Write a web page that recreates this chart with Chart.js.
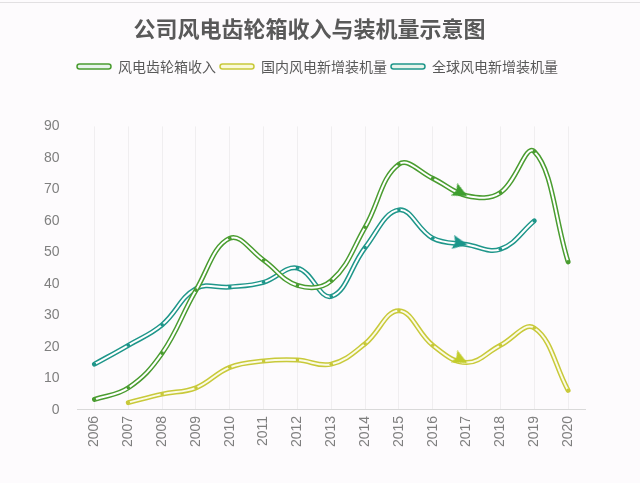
<!DOCTYPE html>
<html>
<head>
<meta charset="utf-8">
<script src="https://cdn.jsdelivr.net/npm/chart.js@4/dist/chart.umd.min.js"></script>
<style>
  html, body { margin: 0; padding: 0; background: #fdfbfd; }
  #wrap { position: relative; width: 640px; height: 483px; }
  #topline { position: absolute; left: 0; top: 2px; width: 640px; height: 1px; background: #e2e0e2; }
</style>
</head>
<body>
<div id="wrap">
  <div id="topline"></div>
  <canvas id="c" width="640" height="483"></canvas>
</div>
<script>
const titleText = '公司风电齿轮箱收入与装机量示意图';
const years = ['2006','2007','2008','2009','2010','2011','2012','2013','2014','2015','2016','2017','2018','2019','2020'];
const seriesNames = ['风电齿轮箱收入', '国内风电新增装机量', '全球风电新增装机量'];
const revenue = [3.3, 7, 18, 38, 54.5, 47.5, 39.5, 41, 58, 78, 73.5, 68, 69, 82, 47];
const domestic = [null, 2.3, 5, 7, 13.5, 15.5, 15.8, 14.5, 21, 31.5, 20.5, 15, 20.5, 26, 6.2];
const global = [14.5, 20.5, 27, 38.5, 39, 40.5, 45, 36, 51.5, 63.5, 54.5, 52.5, 51, 60, null];
const yTicks = [0, 10, 20, 30, 40, 50, 60, 70, 80, 90];
const arrowYear = '2017';

const outlineColors = ['#4a9c30', '#c8c93a', '#1f968a'];
const innerColors = ['#ffffff', '#fbfbe6', '#ffffff'];
const arrowColors = ['#3d9e2e', '#c2cc2a', '#1a958a'];
const arrowIndex = years.indexOf(arrowYear);

// arrowhead image: tip at the centre, pointing right (rotated per point)
function makeArrow(color) {
  const c = document.createElement('canvas');
  c.width = 32; c.height = 32;
  const g = c.getContext('2d');
  g.fillStyle = color;
  g.beginPath();
  g.moveTo(17, 16);
  g.lineTo(2, 9);
  g.lineTo(4.5, 16);
  g.lineTo(2, 23);
  g.closePath();
  g.fill();
  return c;
}
const arrowImgs = arrowColors.map(makeArrow);

function arrowRotation(ctx) {
  const i = ctx.dataIndex;
  if (i !== arrowIndex) return 0;
  const sx = ctx.chart.scales.x, sy = ctx.chart.scales.y;
  const d = ctx.dataset.data;
  if (!sx || !sy || d[i - 1] == null) return 0;
  const dx = sx.getPixelForValue(i) - sx.getPixelForValue(i - 1);
  const dy = sy.getPixelForValue(d[i]) - sy.getPixelForValue(d[i - 1]);
  return Math.atan2(dy, dx) * 180 / Math.PI;
}

const allData = [revenue, domestic, global];
const datasets = [];
allData.forEach((arr, k) => {
  datasets.push({
    label: seriesNames[k],
    data: arr,
    borderColor: innerColors[k],
    borderWidth: 2,
    tension: 0.4,
    borderCapStyle: 'round',
    pointStyle: (ctx) => ctx.dataIndex === arrowIndex ? arrowImgs[k] : 'circle',
    pointRadius: (ctx) => ctx.dataIndex === arrowIndex ? 7 : 1.8,
    pointRotation: arrowRotation,
    pointBackgroundColor: outlineColors[k],
    pointBorderColor: outlineColors[k],
    pointBorderWidth: 0,
    order: 2 * k,
    isOutline: false
  });
  datasets.push({
    label: seriesNames[k] + '_outline',
    data: arr,
    borderColor: outlineColors[k],
    borderWidth: 5,
    tension: 0.4,
    borderCapStyle: 'round',
    pointRadius: 0,
    order: 2 * k + 1,
    isOutline: true
  });
});

const legendMargin = {
  id: 'legendMargin',
  beforeInit(chart) {
    const fit = chart.legend.fit;
    chart.legend.fit = function () {
      fit.bind(this)();
      this.height += 43;
    };
  },
  afterLayout(chart) {
    chart.legend.left += 8;
    chart.legend.right += 8;
  }
};

new Chart(document.getElementById('c'), {
  type: 'line',
  data: { labels: years, datasets: datasets },
  plugins: [legendMargin],
  options: {
    responsive: false,
    animation: false,
    layout: { padding: { left: 34, right: 55, top: 6, bottom: 30 } },
    plugins: {
      title: {
        display: true,
        text: titleText,
        color: '#595959',
        font: { family: '"Noto Sans CJK SC", sans-serif', size: 22, weight: 'bold' },
        padding: { top: 9, bottom: 14 }
      },
      legend: {
        display: true,
        labels: {
          color: '#595959',
          font: { family: '"Noto Sans CJK SC", sans-serif', size: 14 },
          boxWidth: 34,
          boxHeight: 5,
          padding: 4,
          useBorderRadius: true,
          borderRadius: 2.5,
          filter: (item, data) => !data.datasets[item.datasetIndex].isOutline,
          generateLabels: (chart) => chart.data.datasets.map((ds, i) => {
            const k = Math.floor(i / 2);
            return {
              text: ds.label,
              fillStyle: k === 1 ? '#fafad8' : '#e8f4ec',
              strokeStyle: outlineColors[k],
              lineWidth: 1.5,
              fontColor: '#595959',
              datasetIndex: i,
              hidden: false,
              borderRadius: 2.5
            };
          })
        },
        padding: 0
      },
      tooltip: { enabled: false }
    },
    scales: {
      x: {
        offset: true,
        grid: { display: true, color: '#f0eef0', drawTicks: false, offset: false },
        border: { display: true, color: '#d9d9d9', width: 1 },
        ticks: {
          color: '#7f7f7f',
          font: { family: '"Liberation Sans", Arial, sans-serif', size: 14 },
          minRotation: 90,
          maxRotation: 90,
          padding: 6,
          autoSkip: false
        }
      },
      y: {
        min: 0,
        max: 90,
        afterBuildTicks: (scale) => { scale.ticks = yTicks.map(v => ({ value: v })); },
        grid: { display: false },
        border: { display: false },
        ticks: {
          color: '#7f7f7f',
          font: { family: '"Liberation Sans", Arial, sans-serif', size: 14 },
          padding: 10
        }
      }
    }
  }
});
</script>
</body>
</html>
